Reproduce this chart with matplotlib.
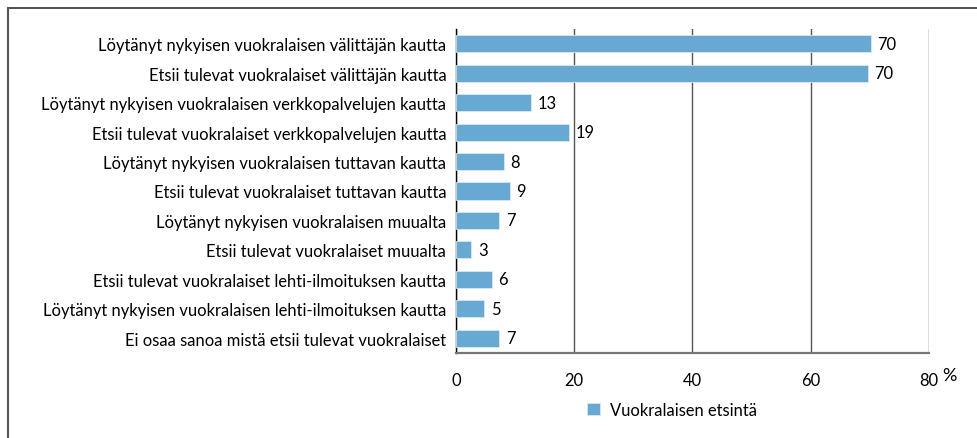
import matplotlib.pyplot as plt
import numpy as np

plt.rcParams['font.family'] = ['Lato', 'DejaVu Sans']

# data
kategoriat = [
    'Löytänyt nykyisen vuokralaisen välittäjän kautta',
    'Etsii tulevat vuokralaiset välittäjän kautta',
    'Löytänyt nykyisen vuokralaisen verkkopalvelujen kautta',
    'Etsii tulevat vuokralaiset verkkopalvelujen kautta',
    'Löytänyt nykyisen vuokralaisen tuttavan kautta',
    'Etsii tulevat vuokralaiset tuttavan kautta',
    'Löytänyt nykyisen vuokralaisen muualta',
    'Etsii tulevat vuokralaiset muualta',
    'Etsii tulevat vuokralaiset lehti-ilmoituksen kautta',
    'Löytänyt nykyisen vuokralaisen lehti-ilmoituksen kautta',
    'Ei osaa sanoa mistä etsii tulevat vuokralaiset',
]
arvot = [70.2, 69.7, 12.7, 19.1, 8.1, 9.1, 7.3, 2.6, 6.1, 4.8, 7.3]
x_ticks = [0, 20, 40, 60, 80]
sarja = 'Vuokralaisen etsintä'

vari = '#67a9d3'
fs = 11.9

fig = plt.figure(figsize=(9.78, 4.39), dpi=100)
ax = fig.add_axes([456 / 978, 1 - 354 / 439, (929 - 456) / 978, (354 - 30) / 439])

y = np.arange(len(kategoriat))
bars = ax.barh(y, arvot, height=0.58, color=vari, edgecolor='#d6e8f4', linewidth=0.6,
               label=sarja, zorder=3)
ax.set_ylim(len(kategoriat) - 0.5, -0.5)
ax.set_yticks(y)
ax.set_yticklabels(kategoriat, fontsize=fs)
ax.tick_params(axis='y', length=0, pad=7)

for b, v in zip(bars, arvot):
    ax.text(b.get_width() + 1.1, b.get_y() + b.get_height() / 2, f'{v:.0f}',
            va='center', ha='left', fontsize=fs, color='black')

ax.set_xlim(0, 80)
ax.set_xticks(x_ticks)
ax.set_xticklabels([str(t) for t in x_ticks], fontsize=fs)
ax.tick_params(axis='x', length=0, pad=14)
ax.text(1.028, -0.068, '%', transform=ax.transAxes, fontsize=13, va='center', ha='left')

ax.grid(axis='x', color='#555555', linewidth=1, zorder=0)
ax.grid(axis='y', visible=False)
ax.spines['top'].set_visible(False)
ax.spines['right'].set_visible(False)
ax.spines['left'].set_color('black')
ax.spines['left'].set_linewidth(1)
ax.spines['bottom'].set_color('#777777')
ax.spines['bottom'].set_linewidth(1.6)

ax.legend(loc='center', bbox_to_anchor=(672 / 978, 1 - 411 / 439),
          bbox_transform=fig.transFigure, frameon=False, fontsize=fs,
          handlelength=0.75, handleheight=0.75, handletextpad=0.6)

# frame (cropped screenshot: only top and left edges visible)
fig.add_artist(plt.Line2D([8 / 978, 1], [1 - 9 / 439, 1 - 9 / 439], color='#333333', linewidth=1.2))
fig.add_artist(plt.Line2D([8 / 978, 8 / 978], [0, 1 - 9 / 439], color='#555555', linewidth=1.5))

plt.savefig('out.png', dpi=100)
